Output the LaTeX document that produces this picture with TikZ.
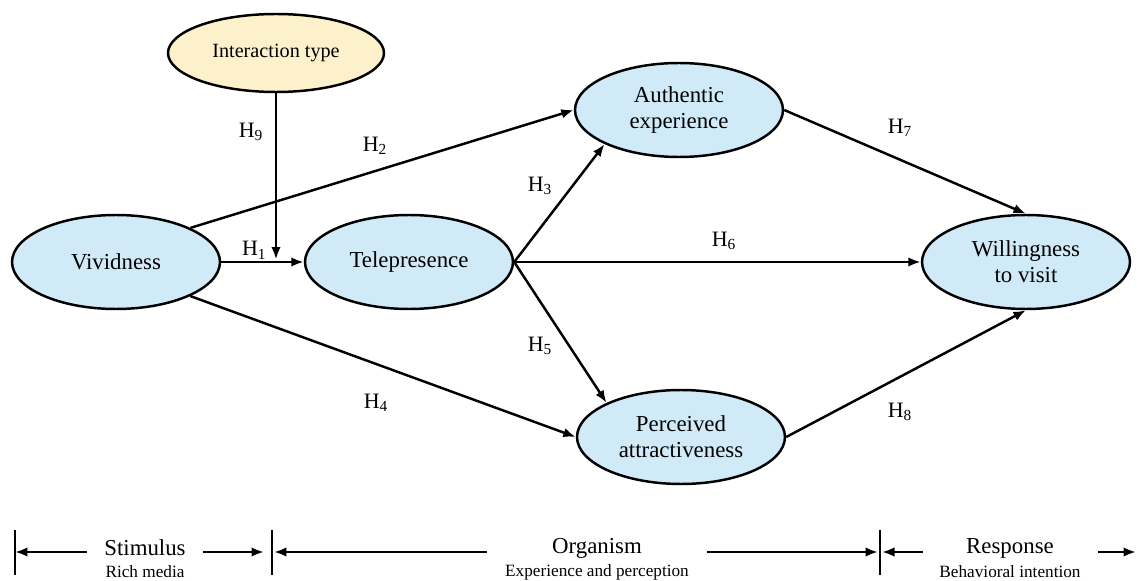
\documentclass[tikz,border=0pt]{standalone}
\usepackage{fontspec}
\setmainfont{Liberation Serif}
\usetikzlibrary{arrows.meta,positioning,shapes.geometric}

\definecolor{cellblue}{RGB}{208,234,247}
\definecolor{cellyellow}{RGB}{253,241,203}

\begin{document}
\begin{tikzpicture}[
    x=0.02cm, y=-0.02cm,
    construct/.style={ellipse, draw, line width=1.4pt, fill=cellblue, inner sep=0pt, minimum width=4.16cm, minimum height=1.88cm, align=center, font=\fontsize{13}{15}\selectfont},
    moderator/.style={construct, fill=cellyellow, minimum width=4.32cm, minimum height=1.56cm, font=\fontsize{11.5}{13}\selectfont},
    hyp/.style={font=\fontsize{12.5}{14}\selectfont, inner sep=1pt},
    arrow/.style={-{Latex[length=2.5mm,width=1.9mm]}, line width=1.4pt},
    phase/.style={font=\fontsize{13}{15}\selectfont, inner sep=0pt},
    phasesub/.style={font=\fontsize{9.8}{11}\selectfont, inner sep=0pt},
    tickline/.style={line width=1.4pt}
]
    \useasboundingbox (0,0) rectangle (1137,581);

    % constructs
    \node[moderator] (inter) at (276,53) {Interaction type};
    \node[construct] (vivid) at (116,262) {Vividness};
    \node[construct] (tele) at (409,262) {Telepresence};
    \node[construct] (auth) at (679,110) {Authentic\\experience};
    \node[construct] (attr) at (681,437) {Perceived\\attractiveness};
    \node[construct] (will) at (1026,262) {Willingness\\to visit};

    % paths
    \coordinate (mod) at (inter.south |- vivid.east);
    \draw[arrow] (vivid.east) -- node[hyp, above, pos=0.4] {H\textsubscript{1}} (tele.west);
    \draw[arrow] (inter.south) -- ([yshift=0.05cm]mod);
    \draw[arrow] (vivid.north east) -- (auth.west);
    \draw[arrow] (tele.east) -- (auth.south west);
    \draw[arrow] (vivid.south east) -- (attr.west);
    \draw[arrow] (tele.east) -- (attr.north west);
    \draw[arrow] (tele.east) -- (will.west);
    \draw[arrow] (auth.east) -- (will.north);
    \draw[arrow] (attr.east) -- (will.south);

    % hypothesis labels
    \node[hyp] (h9) at (251,132) {H\textsubscript{9}};
    \node[hyp] (h2) at (375,146) {H\textsubscript{2}};
    \node[hyp] (h3) at (540,186) {H\textsubscript{3}};
    \node[hyp] (h6) at (724,241) {H\textsubscript{6}};
    \node[hyp] (h5) at (540,346) {H\textsubscript{5}};
    \node[hyp] (h4) at (376,403) {H\textsubscript{4}};
    \node[hyp] (h7) at (900,128) {H\textsubscript{7}};
    \node[hyp] (h8) at (900,412) {H\textsubscript{8}};

    % S-O-R axis
    \coordinate (t1) at (15,552);
    \coordinate (t2) at (272,552);
    \coordinate (t3) at (880,552);
    \coordinate (t4) at (1136,552);
    \foreach \t in {t1,t2,t3}
        \draw[tickline] ([yshift=0.44cm]\t) -- ([yshift=-0.46cm]\t);

    \node[phase] (stim) at (145,548) {Stimulus};
    \node[phasesub] (stimsub) at (145,572) {Rich media};
    \node[phase] (org) at (597,548) {Organism};
    \node[phasesub] (orgsub) at (597,572) {Experience and perception};
    \node[phase] (resp) at (1010,548) {Response};
    \node[phasesub] (respsub) at (1010,572) {Behavioral intention};

    \coordinate (s1) at (87,552);
    \coordinate (s2) at (203,552);
    \coordinate (o1) at (487,552);
    \coordinate (o2) at (707,552);
    \coordinate (r1) at (923,552);
    \coordinate (r2) at (1098,552);

    \draw[arrow] (s1) -- (t1);
    \draw[arrow] (s2) -- ([xshift=-0.16cm]t2);
    \draw[arrow] (o1) -- ([xshift=0.04cm]t2);
    \draw[arrow] (o2) -- ([xshift=-0.04cm]t3);
    \draw[arrow] (r1) -- ([xshift=0.04cm]t3);
    \draw[arrow] (r2) -- (t4);
\end{tikzpicture}
\end{document}
